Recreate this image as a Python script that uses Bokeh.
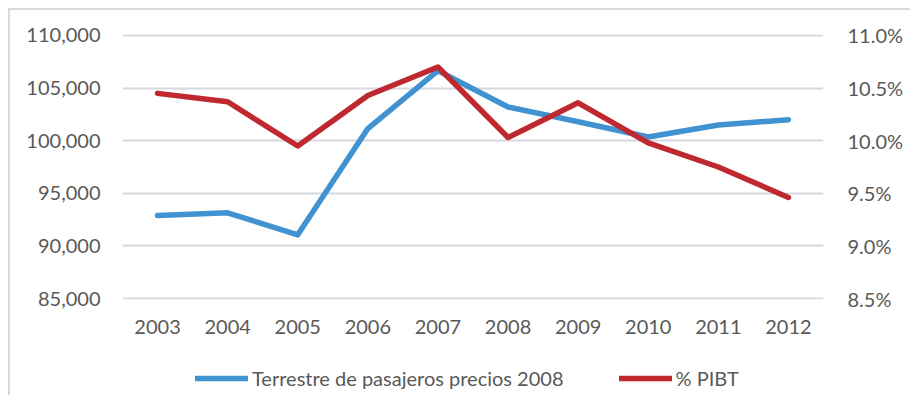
from bokeh.plotting import figure
from bokeh.layouts import column
from bokeh.models import (Range1d, LinearAxis, FixedTicker, NumeralTickFormatter,
                          PrintfTickFormatter, Legend, LegendItem)
from bokeh.embed import file_html
from bokeh.resources import INLINE

years = [2003, 2004, 2005, 2006, 2007, 2008, 2009, 2010, 2011, 2012]
pasajeros = [92900, 93150, 91050, 101150, 106650, 103200, 101800, 100350, 101500, 102000]
pibt_pct = [10.45, 10.37, 9.95, 10.43, 10.70, 10.03, 10.36, 9.98, 9.75, 9.46]
left_ticks = [85000, 90000, 95000, 100000, 105000, 110000]
right_ticks = [8.5, 9.0, 9.5, 10.0, 10.5, 11.0]
series_names = ["Terrestre de pasajeros precios 2008", "% PIBT"]

BLUE = "#4092D0"
RED = "#BF282E"
GRID = "#D6D8DD"
TEXT = "#595959"
FONT = "Lato"
LW = 5.5
W = 900

p = figure(width=W, height=329, output_backend="svg", toolbar_location=None,
           x_range=Range1d(2002.5, 2012.5),
           y_range=Range1d(84905, 110095),
           min_border_left=112, min_border_right=87,
           min_border_top=24, min_border_bottom=40)
p.outline_line_color = None
p.extra_y_ranges = {"pct": Range1d(8.4905, 11.0095)}

p.xaxis.ticker = FixedTicker(ticks=years)
p.yaxis.ticker = FixedTicker(ticks=left_ticks)
p.yaxis.formatter = NumeralTickFormatter(format="0,0")
right = LinearAxis(y_range_name="pct", ticker=FixedTicker(ticks=right_ticks),
                   formatter=PrintfTickFormatter(format="%.1f%%"))
p.add_layout(right, "right")

for ax in [p.xaxis[0], p.yaxis[0], right]:
    ax.axis_line_color = None
    ax.major_tick_line_color = None
    ax.minor_tick_line_color = None
    ax.major_label_text_font = FONT
    ax.major_label_text_font_size = "20px"
    ax.major_label_text_color = TEXT
p.yaxis[0].major_label_standoff = 16
right.major_label_standoff = 18
p.xaxis[0].major_label_standoff = 14

p.xgrid.grid_line_color = None
p.ygrid.grid_line_color = GRID
p.ygrid.grid_line_width = 2

p.line(years, pasajeros, line_color=BLUE, line_width=LW, line_cap="round", line_join="round")
p.line(years, pibt_pct, y_range_name="pct", line_color=RED, line_width=LW,
       line_cap="round", line_join="round")

# legend strip (separate figure so the legend is not clipped by the plot frame);
# its ranges keep the series out of view so only the legend keys show
lg = figure(width=W, height=56, output_backend="svg", toolbar_location=None,
            x_axis_type=None, y_axis_type=None,
            x_range=Range1d(0, 1), y_range=Range1d(0, 1),
            min_border_left=0, min_border_right=0, min_border_top=0, min_border_bottom=0)
lg.outline_line_color = None
lg.xgrid.visible = False
lg.ygrid.visible = False
k1 = lg.line(years, pasajeros, line_color=BLUE, line_width=LW, line_cap="round")
k2 = lg.line(years, pibt_pct, line_color=RED, line_width=LW, line_cap="round")
legend = Legend(items=[LegendItem(label=series_names[0], renderers=[k1]),
                       LegendItem(label=series_names[1], renderers=[k2])],
                orientation="horizontal", location=(73, 5),
                glyph_width=53, glyph_height=20, label_standoff=4, spacing=55,
                padding=0, margin=0, border_line_color=None, background_fill_alpha=0,
                label_text_font=FONT, label_text_font_size="20px", label_text_color=TEXT)
lg.add_layout(legend, "center")

layout = column(p, lg, spacing=0,
                styles={"border-left": "2px solid #D9D9D9", "border-top": "2px solid #D9D9D9",
                        "margin-left": "8px", "margin-top": "8px"})

open("out.html", "w").write(file_html(layout, INLINE))
